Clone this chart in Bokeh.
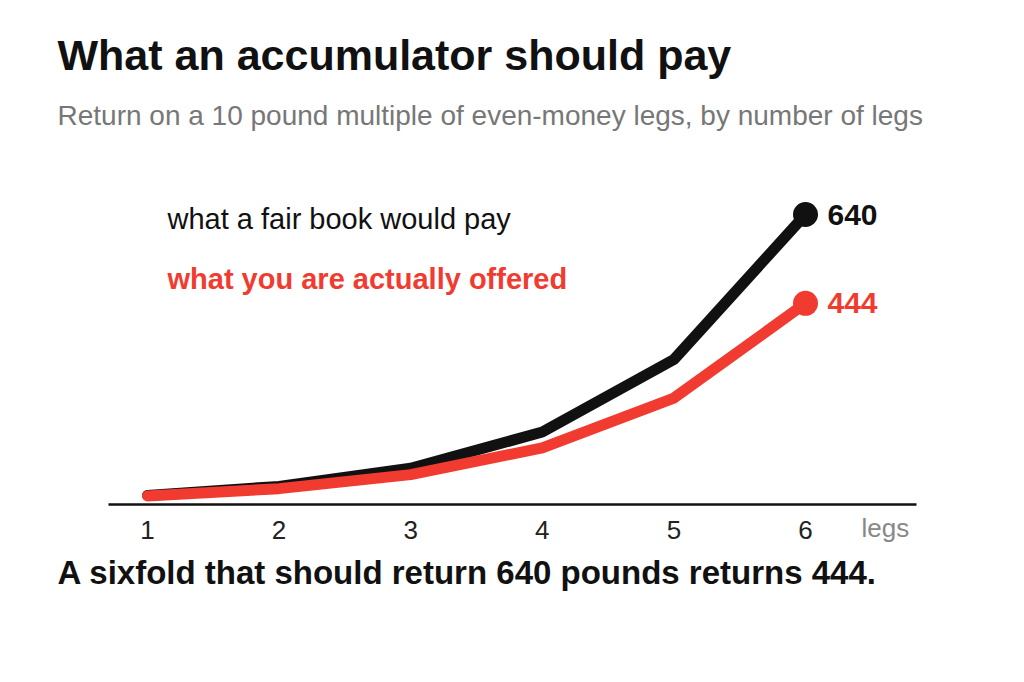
from bokeh.plotting import figure
from bokeh.models import ColumnDataSource, Label, Range1d, FixedTicker
from bokeh.core.properties import value
from bokeh.embed import file_html
from bokeh.resources import INLINE

# data
legs = [1, 2, 3, 4, 5, 6]
fair = [20, 40, 80, 160, 320, 640]
offered = [19, 35, 66, 125, 235, 444]

black = "#111111"
red = "#f23b30"
font = "Liberation Sans"
W, H = 1008, 666

# the frame covers the whole canvas so the texts are not clipped
p = figure(width=W, height=H, output_backend="svg", toolbar_location=None,
           x_range=Range1d(-0.1170, 7.5426), y_range=Range1d(-357.5, 1112.3),
           y_axis_location=None,
           min_border_left=0, min_border_right=0, min_border_top=0, min_border_bottom=0)
p.outline_line_color = None
p.grid.visible = False
p.background_fill_color = "white"
p.border_fill_color = "white"

ax = p.xaxis[0]
ax.fixed_location = 0
ax.bounds = (0.7036, 6.8435)
ax.ticker = FixedTicker(ticks=legs)
ax.axis_line_color = black
ax.axis_line_width = 2.5
ax.major_tick_line_color = None
ax.minor_tick_line_color = None
ax.major_label_standoff = 10
ax.major_label_text_font = font
ax.major_label_text_font_size = "26px"
ax.major_label_text_color = "#222222"

src = ColumnDataSource(dict(legs=legs, fair=fair, offered=offered))
p.line("legs", "fair", source=src, line_color=black, line_width=11, line_join="round", line_cap="round")
p.line("legs", "offered", source=src, line_color=red, line_width=11, line_join="round", line_cap="round")

end = ColumnDataSource(dict(x=[legs[-1], legs[-1]], y=[fair[-1], offered[-1]],
                            c=[black, red], t=[str(fair[-1]), str(offered[-1])]))
p.scatter("x", "y", source=end, size=25, fill_color="c", line_color=None)
p.text("x", "y", text="t", source=end, x_offset=22, text_color="c", text_baseline="middle",
       text_font=value(font), text_font_size="30px", text_font_style="bold")


def lab(text, x, y, size, color=black, style="normal"):
    # x, y: pixel position of the text's left baseline, measured from the top left
    px = int(size[:-2])
    p.add_layout(Label(x=x, y=H - y + round(0.38 * px), x_units="screen", y_units="screen",
                       text=text, text_font=font, text_font_size=size, text_color=color,
                       text_font_style=style, text_baseline="alphabetic"))


lab("What an accumulator should pay", 57, 70, "43px", style="bold")
lab("Return on a 10 pound multiple of even-money legs, by number of legs", 57, 126, "28px", color="#777777")
lab("what a fair book would pay", 167, 229, "29px")
lab("what you are actually offered", 167, 289, "29px", color=red, style="bold")
lab("legs", 861, 537, "26px", color="#888888")
lab("A sixfold that should return 640 pounds returns 444.", 57, 585, "33px", style="bold")

open("out.html", "w").write(file_html(p, INLINE))
